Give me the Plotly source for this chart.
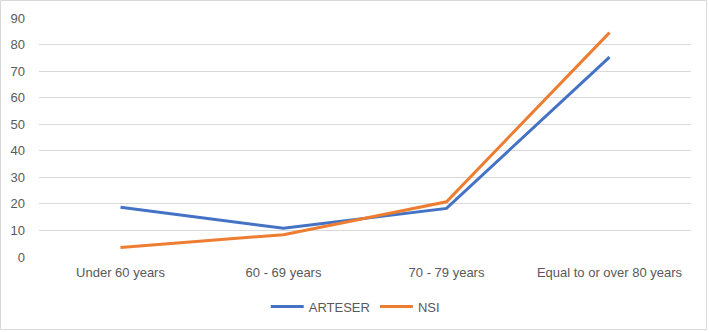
import plotly.graph_objects as go

categories = ["Under 60 years", "60 - 69 years", "70 - 79 years", "Equal to or over 80 years"]
arteser = [18.7, 10.8, 18.3, 75.3]
nsi = [3.6, 8.4, 20.8, 84.5]
y_ticks = [0, 10, 20, 30, 40, 50, 60, 70, 80, 90]

W, H = 709, 332
ml, mr, mt, mb = 39, 18, 18, 75
pw, ph = W - ml - mr, H - mt - mb

fig = go.Figure()
fig.add_trace(go.Scatter(x=categories, y=arteser, mode="lines", name="ARTESER",
                         line=dict(color="#4472C4", width=3)))
fig.add_trace(go.Scatter(x=categories, y=nsi, mode="lines", name="NSI",
                         line=dict(color="#ED7D31", width=3)))

font_family = "Liberation Sans, Arial, sans-serif"
fig.update_layout(
    width=W, height=H,
    margin=dict(l=ml, r=mr, t=mt, b=mb, autoexpand=False),
    paper_bgcolor="white", plot_bgcolor="white",
    font=dict(family=font_family, size=13, color="#595959"),
    xaxis=dict(type="category", range=[-0.5, 3.5], showgrid=False, zeroline=False,
               showline=False, ticks="", ticklabelstandoff=6, automargin=False,
               tickfont=dict(size=13, color="#595959")),
    yaxis=dict(range=[0, 90], tickvals=y_ticks, showgrid=True, gridcolor="#D9D9D9",
               gridwidth=1, zeroline=False, showline=False, ticks="", automargin=False,
               ticklabelstandoff=13, tickfont=dict(size=13, color="#595959")),
    legend=dict(orientation="h", x=0.485, xanchor="center", y=-0.145, yanchor="top",
                font=dict(size=13, color="#595959"), itemwidth=33, tracegroupgap=0,
                bgcolor="rgba(0,0,0,0)"),
    showlegend=True,
)
fig.add_shape(type="rect", xref="paper", yref="paper",
              x0=-(ml - 0.5) / pw, x1=(W - ml - 2.5) / pw,
              y0=-(mb - 2.5) / ph, y1=1 + (mt - 0.5) / ph,
              line=dict(color="#D9D9D9", width=1), layer="below")

fig.write_html("out.html", config={"displayModeBar": False},
               post_script="document.body.style.margin='0';")
